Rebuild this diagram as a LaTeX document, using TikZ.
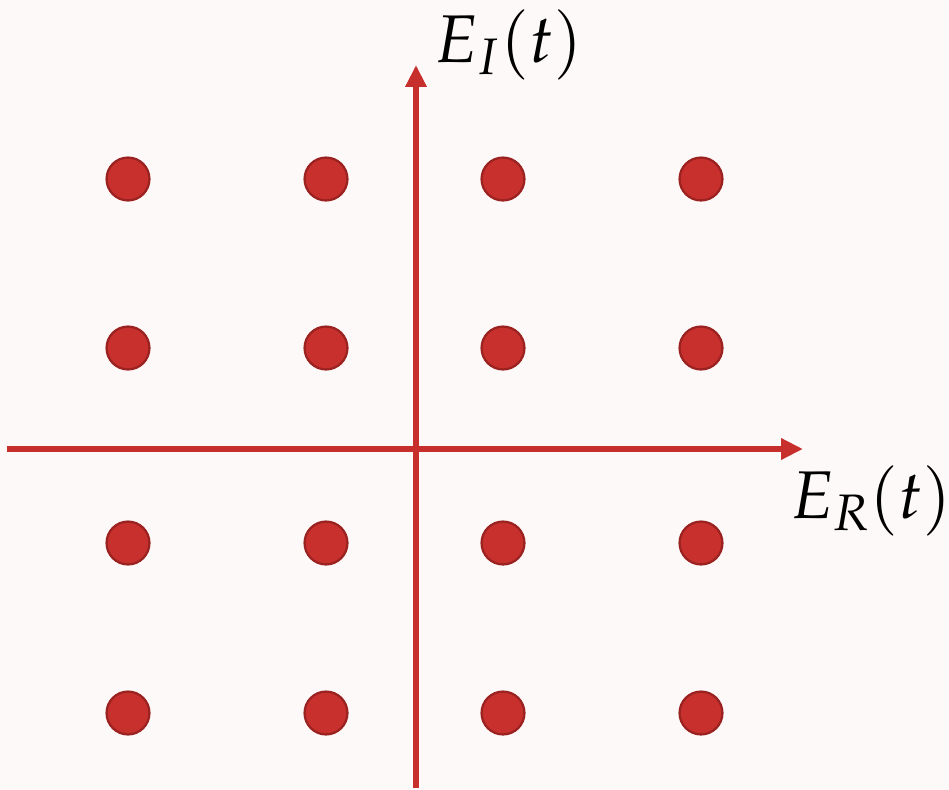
\documentclass[tikz,border=0pt]{standalone}
\usepackage{amsmath}
\usepackage{mathpazo}
\usepackage{tikz}
\usetikzlibrary{arrows.meta}

\definecolor{bgpink}{HTML}{FDF9F8}
\definecolor{axred}{HTML}{C62F2C}
\definecolor{dotred}{HTML}{C8302E}
\definecolor{dotrim}{HTML}{9A2220}

\tikzset{
  axis/.style={draw=axred,line width=4.3pt,-{Triangle[length=15.6pt,width=14.4pt]}},
  symbol/.style={circle,fill=dotred,draw=dotrim,line width=1.6pt,minimum size=30.5pt,inner sep=0pt},
  axlabel/.style={font=\fontsize{48}{58}\selectfont,inner sep=0pt}
}

\begin{document}
\begin{tikzpicture}[x=0.025cm,y=-0.025cm]
  \fill[bgpink] (0,0) rectangle (949,790);
  \useasboundingbox (0,0) rectangle (949,790);
  % axes
  \coordinate (xstart) at (7,449);
  \coordinate (xend) at (803,449);
  \coordinate (ystart) at (416,788);
  \coordinate (yend) at (416,65);
  \draw[axis] (xstart) -- (xend);
  \draw[axis] (ystart) -- (yend);
  \node[axlabel,anchor=base west] (lblR) at (790,518) {$E_R(t)$};
  \node[axlabel,anchor=base west] (lblI) at (434,62) {$E_I(t)$};
  % constellation points
  \foreach \y/\r in {179/a,348/b,543/c,713/d}
    \foreach \x/\c in {128/1,326/2,503/3,701/4}
      \node[symbol] (s\r\c) at (\x,\y) {};
\end{tikzpicture}
\end{document}
